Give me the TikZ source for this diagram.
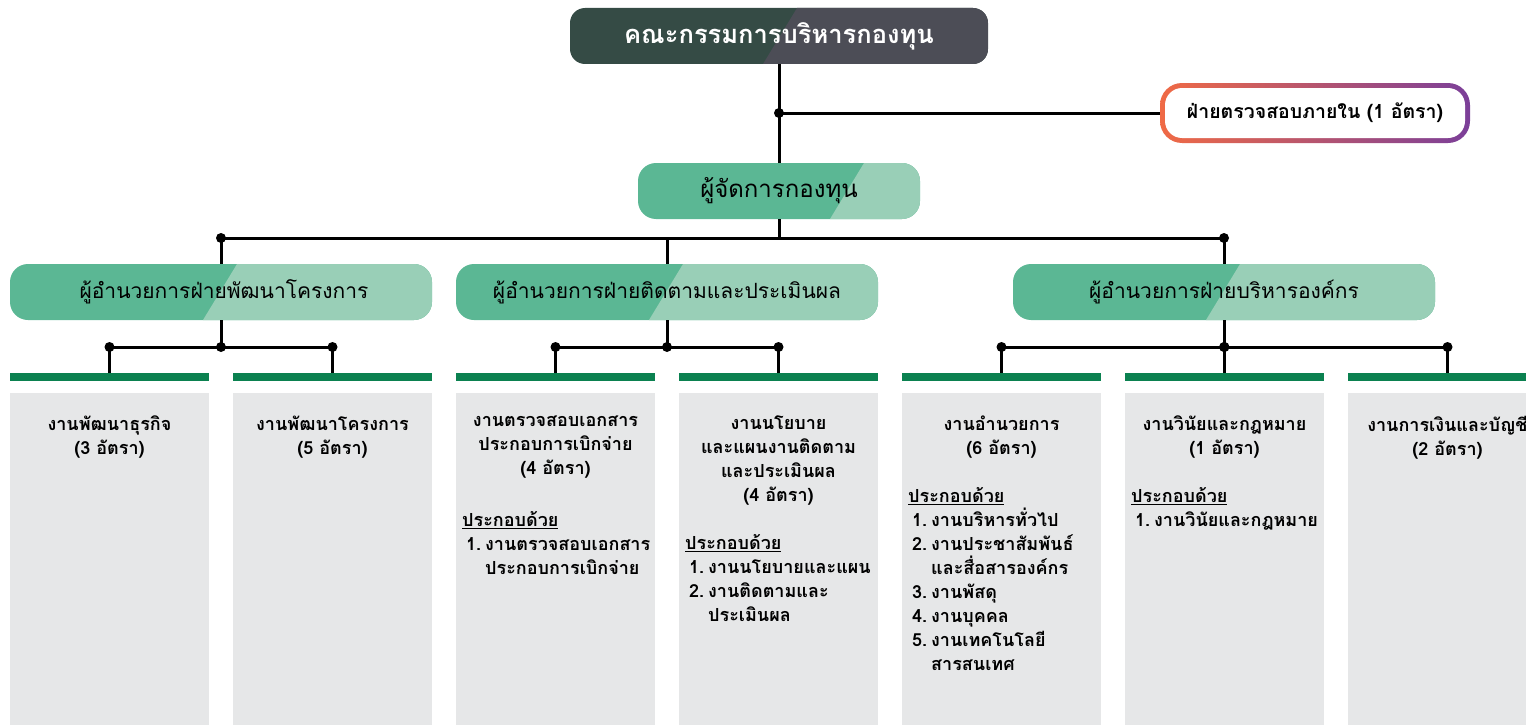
\documentclass[tikz,border=0pt]{standalone}
\usepackage{fontspec}
\newfontfamily\thaifont[Script=Thai]{Loma}
\usetikzlibrary{calc}

\definecolor{boarddark}{HTML}{354B45}
\definecolor{boardgrey}{HTML}{4C4D56}
\definecolor{deptgreen}{HTML}{5BB794}
\definecolor{deptlight}{HTML}{99CFB7}
\definecolor{bargreen}{HTML}{0B8150}
\definecolor{panelgrey}{HTML}{E6E7E8}
\definecolor{auditorange}{HTML}{F06A45}
\definecolor{auditpurple}{HTML}{7B3F99}

\newcommand\listnum[1]{\hspace*{4pt}\makebox[19pt][l]{#1}}
\newcommand\listcont{\hspace*{23pt}}

\tikzset{
  twotone/.style n args={4}{fill=#1, rounded corners=#2, path picture={
      \fill[#3, sharp corners] ([xshift=#4+17pt]path picture bounding box.north)
        -- (path picture bounding box.north east)
        -- (path picture bounding box.south east)
        -- ([xshift=#4-17pt]path picture bounding box.south) -- cycle;}},
  board/.style={twotone={boarddark}{15pt}{boardgrey}{1pt}, minimum width=418pt,
    minimum height=56pt, text=white, font=\thaifont\bfseries\fontsize{25.5}{28}\selectfont},
  manager/.style={twotone={deptgreen}{18pt}{deptlight}{68pt}, minimum width=282pt,
    minimum height=56pt, font=\thaifont\fontsize{24}{28}\selectfont},
  director/.style={twotone={deptgreen}{18pt}{deptlight}{-1pt}, minimum width=422pt,
    minimum height=56pt, font=\thaifont\fontsize{21}{26}\selectfont},
  auditring/.style={shade, left color=auditorange, right color=auditpurple,
    rounded corners=22pt, minimum width=310pt, minimum height=60pt, inner sep=0pt},
  auditbox/.style={fill=white, rounded corners=17pt, minimum width=300pt,
    minimum height=50pt, font=\thaifont\bfseries\fontsize{19.5}{22}\selectfont},
  wire/.style={line width=3pt},
  bar/.style={fill=bargreen, minimum width=199pt, minimum height=8pt, inner sep=0pt},
  panel/.style={fill=panelgrey, minimum width=199pt, minimum height=337pt, inner sep=0pt},
  unittitle/.style={anchor=north, align=center, inner sep=0pt,
    font=\thaifont\bfseries\fontsize{18}{24}\selectfont, execute at begin node=\strut},
  unitlist/.style={anchor=north west, align=left, inner sep=0pt,
    font=\thaifont\bfseries\fontsize{18}{24}\selectfont, execute at begin node=\strut},
}

\begin{document}
\begin{tikzpicture}[x=1pt,y=-1pt]
\clip (0,0) rectangle (1526,725);

% top level
\node[board] (board) at (779,36) {คณะกรรมการบริหารกองทุน};
\node[auditring] (auditring) at (1315,113) {};
\node[auditbox] (audit) at (auditring.center) {ฝ่ายตรวจสอบภายใน (1 อัตรา)};
\node[manager] (manager) at (779,191) {ผู้จัดการกองทุน};

\coordinate (auditjoin) at (board.south |- audit);
\draw[wire] (board.south) -- (manager.north);
\draw[wire] (auditjoin) -- (auditring.west);
\fill (auditjoin) circle (5pt);

% directors
\node[director] (d1) at (221,292) {\hspace*{6pt}ผู้อำนวยการฝ่ายพัฒนาโครงการ};
\node[director] (d2) at (667,292) {ผู้อำนวยการฝ่ายติดตามและประเมินผล};
\node[director] (d3) at (1224,292) {ผู้อำนวยการฝ่ายบริหารองค์กร};

\coordinate (bus) at (0,238);
\draw[wire] (manager.south) -- (manager.south |- bus);
\draw[wire] (d1.north |- bus) -- (d3.north |- bus);
\foreach \d in {d1,d2,d3}
  \draw[wire] (\d.north |- bus) -- (\d.north);
\fill (d1.north |- bus) circle (5pt);
\fill (d3.north |- bus) circle (5pt);

% units
\foreach \i in {1,...,7} {
  \node[panel] (p\i) at ({109.5+223*(\i-1)},561.5) {};
  \node[bar] (b\i) at ({109.5+223*(\i-1)},377) {};
}

\coordinate (subbus) at (0,347);
\foreach \d/\first/\last in {d1/b1/b2, d2/b3/b4, d3/b5/b7} {
  \draw[wire] (\d.south) -- (\d.south |- subbus);
  \draw[wire] (\first.north |- subbus) -- (\last.north |- subbus);
  \fill (\d.south |- subbus) circle (5pt);
}
\foreach \i in {1,...,7} {
  \draw[wire] (b\i.north |- subbus) -- (b\i.north);
  \fill (b\i.north |- subbus) circle (5pt);
}

\node[unittitle] (t1) at ([yshift=-23pt]p1.north) {งานพัฒนาธุรกิจ\\(3 อัตรา)};
\node[unittitle] (t2) at ([yshift=-23pt]p2.north) {งานพัฒนาโครงการ\\(5 อัตรา)};
\node[unittitle] (t3) at ([yshift=-23pt]p3.north) {งานตรวจสอบเอกสาร\\ประกอบการเบิกจ่าย\\(4 อัตรา)};
\node[unittitle] (t4) at ([yshift=-23pt]p4.north) {งานนโยบาย\\และแผนงานติดตาม\\และประเมินผล\\(4 อัตรา)};
\node[unittitle] (t5) at ([yshift=-23pt]p5.north) {งานอำนวยการ\\(6 อัตรา)};
\node[unittitle] (t6) at ([yshift=-23pt]p6.north) {งานวินัยและกฎหมาย\\(1 อัตรา)};
\node[unittitle] (t7) at ([yshift=-23pt]p7.north) {งานการเงินและบัญชี\\(2 อัตรา)};

\node[unitlist] (l3) at (462,511) {\underline{ประกอบด้วย}\\
  \listnum{1.}งานตรวจสอบเอกสาร\\
  \listcont ประกอบการเบิกจ่าย};
\node[unitlist] (l4) at (685,534) {\underline{ประกอบด้วย}\\
  \listnum{1.}งานนโยบายและแผน\\
  \listnum{2.}งานติดตามและ\\
  \listcont ประเมินผล};
\node[unitlist] (l5) at (908,487) {\underline{ประกอบด้วย}\\
  \listnum{1.}งานบริหารทั่วไป\\
  \listnum{2.}งานประชาสัมพันธ์\\
  \listcont และสื่อสารองค์กร\\
  \listnum{3.}งานพัสดุ\\
  \listnum{4.}งานบุคคล\\
  \listnum{5.}งานเทคโนโลยี\\
  \listcont สารสนเทศ};
\node[unitlist] (l6) at (1131,487) {\underline{ประกอบด้วย}\\
  \listnum{1.}งานวินัยและกฎหมาย};
\end{tikzpicture}
\end{document}
